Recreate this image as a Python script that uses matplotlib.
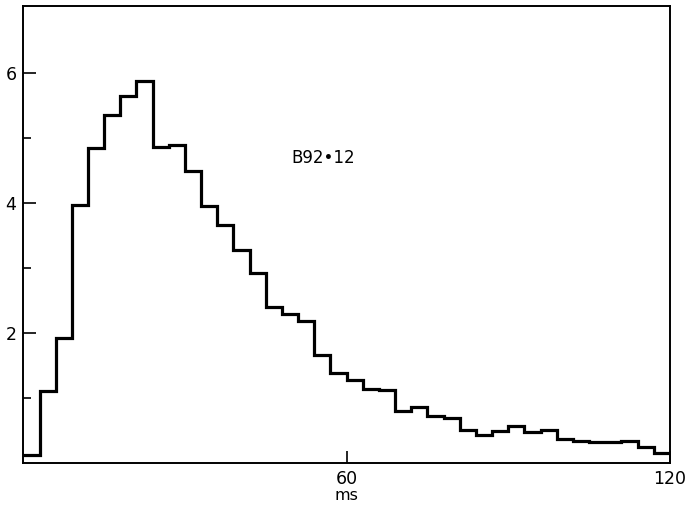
import numpy as np
import matplotlib.pyplot as plt

# 3 ms bins from 0 to 120 ms
bin_edges = np.arange(0, 123, 3)
counts = [0.13, 1.11, 1.93, 3.97, 4.85, 5.36, 5.64, 5.88, 4.87, 4.89,
          4.49, 3.96, 3.66, 3.28, 2.92, 2.41, 2.29, 2.19, 1.67, 1.39,
          1.28, 1.15, 1.12, 0.81, 0.86, 0.73, 0.70, 0.51, 0.43, 0.50,
          0.58, 0.48, 0.51, 0.38, 0.34, 0.32, 0.32, 0.35, 0.25, 0.16]
x_ticks = [60, 120]
y_major = [2, 4, 6]
y_minor = [1, 3, 5]
label = 'B92•12'

fig = plt.figure(figsize=(6.87, 5.08), dpi=100)
ax = fig.add_axes([0.034, 0.088, 0.941, 0.9])

ax.stairs(counts, bin_edges, color='black', linewidth=2.3, baseline=None)

ax.set_xlim(0, 120)
ax.set_ylim(0, 7.03)

ax.set_xticks(x_ticks)
ax.set_xticklabels([str(t) for t in x_ticks])
ax.set_yticks(y_major)
ax.set_yticklabels([str(t) for t in y_major])
ax.set_yticks(y_minor, minor=True)

ax.tick_params(axis='both', which='major', direction='in', length=9,
               width=1.2, labelsize=12.5, pad=5)
ax.tick_params(axis='y', which='minor', direction='in', length=6, width=1.2)
ax.tick_params(axis='x', which='minor', bottom=False)

for s in ax.spines.values():
    s.set_linewidth(1.4)

ax.set_xlabel('ms', fontsize=11.5, labelpad=0)
ax.text(49.8, 4.70, label, fontsize=12, ha='left', va='center')

plt.savefig('out.png', dpi=100)
